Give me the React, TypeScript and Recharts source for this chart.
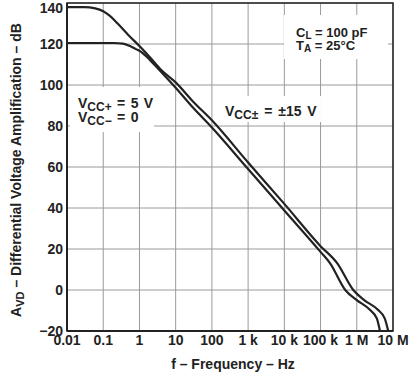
import { LineChart, Line, XAxis, YAxis, CartesianGrid, ReferenceArea } from "recharts"

// VCC± = ±15 V (upper / right curve)
const freq15 = [0.01, 0.03, 0.06, 0.1, 0.15, 0.25, 0.5, 1, 2, 4, 10, 30, 100, 1000, 10000, 100000, 290000, 800000, 1600000, 3900000, 5900000, 7400000]
const gain15 = [138, 138, 137.4, 136, 133.8, 130, 124.3, 119, 113.3, 107.3, 101.3, 92, 82.8, 62.2, 42, 21.4, 13, 0, -4.9, -9.8, -13.8, -20]

// VCC+ = 5 V, VCC- = 0 (lower / left curve)
const freq5 = [0.01, 0.2, 0.35, 0.55, 0.8, 1, 2, 4, 10, 30, 100, 1000, 10000, 100000, 184000, 480000, 1000000, 2340000, 3570000, 4370000]
const gain5 = [120.5, 120.5, 120.2, 119, 117.5, 116.7, 112, 106.3, 98.7, 89, 79.3, 59, 38.8, 18.6, 13, 0, -4.9, -9.8, -13.8, -20]

const xTicks = [0.01, 0.1, 1, 10, 100, 1e3, 1e4, 1e5, 1e6, 1e7]
const xTickLabels = ["0.01", "0.1", "1", "10", "100", "1 k", "10 k", "100 k", "1 M", "10 M"]
const yTicks = [-20, 0, 20, 40, 60, 80, 100, 120, 140]

const data15 = freq15.map((f, i) => ({ f, gain: gain15[i] }))
const data5 = freq5.map((f, i) => ({ f, gain: gain5[i] }))

const FONT = "'Liberation Sans', Arial, Helvetica, sans-serif"
const INK = "#222"

const fmtX = (v: number) => {
  const i = xTicks.findIndex((t) => Math.abs(Math.log10(t) - Math.log10(v)) < 1e-6)
  return i >= 0 ? xTickLabels[i] : ""
}
const fmtY = (v: number) => (v < 0 ? "\u2212" + Math.abs(v) : String(v))

const tickStyle = { fontSize: 14, fontWeight: "bold", fill: INK, fontFamily: FONT }

// y tick: keep the top label inside the picture like the reference
function YTick(props: any) {
  const { x, y, payload } = props
  return (
    <text x={x} y={Math.max(y, 8)} dy="0.355em" textAnchor="end" {...tickStyle}>
      {fmtY(payload.value)}
    </text>
  )
}

export default function App() {
  return (
    <div style={{ position: "absolute", left: 0, top: 0, width: 410, height: 373, background: "#fff" }}>
      <LineChart width={410} height={373} margin={{ top: 3, right: 17, left: 0, bottom: 0 }}>
        <CartesianGrid stroke="#9a9a9a" strokeWidth={1} />
        <XAxis
          dataKey="f"
          type="number"
          scale="log"
          domain={[0.01, 1e7]}
          ticks={xTicks}
          interval={0}
          allowDataOverflow
          tickFormatter={fmtX}
          height={42}
          tickLine={false}
          tickSize={0}
          tickMargin={4}
          axisLine={{ stroke: INK, strokeWidth: 2 }}
          tick={tickStyle}
        />
        <YAxis
          type="number"
          domain={[-20, 140]}
          ticks={yTicks}
          interval={0}
          width={67}
          tickLine={false}
          tickSize={0}
          tickMargin={4}
          axisLine={{ stroke: INK, strokeWidth: 2 }}
          tick={<YTick />}
        />
        <ReferenceArea x1={0.01} x2={1e7} y1={-20} y2={140} fill="none" fillOpacity={0} stroke={INK} strokeWidth={1.5} />
        <Line data={data5} dataKey="gain" type="monotone" stroke={INK} strokeWidth={2.2} dot={false} isAnimationActive={false} />
        <Line data={data15} dataKey="gain" type="monotone" stroke={INK} strokeWidth={2.2} dot={false} isAnimationActive={false} />
      </LineChart>
      <svg width={410} height={373} style={{ position: "absolute", left: 0, top: 0, pointerEvents: "none" }}>
        <g fontFamily={FONT} fontWeight="bold" fill={INK}>
          <rect x={284} y={15} width={104} height={44} fill="#fff" />
          <text x={296} y={37} fontSize={13}>
            C<tspan fontSize={10} dy={2}>L</tspan>
            <tspan dy={-2}> = 100 pF</tspan>
            <tspan x={296} dy={13}>T</tspan>
            <tspan fontSize={10} dy={2}>A</tspan>
            <tspan dy={-2}> = 25°C</tspan>
          </text>

          <rect x={70} y={87} width={84} height={45} fill="#fff" />
          <text x={78} y={108} fontSize={14} wordSpacing={1.5}>
            V<tspan fontSize={12} dy={2.5}>CC+</tspan>
            <tspan dy={-2.5}> = 5 V</tspan>
            <tspan x={78} dy={14}>V</tspan>
            <tspan fontSize={12} dy={2.5}>CC−</tspan>
            <tspan dy={-2.5}> = 0</tspan>
          </text>

          <rect x={222} y={96} width={99} height={26} fill="#fff" />
          <text x={225} y={116} fontSize={14} wordSpacing={2}>
            V<tspan fontSize={12} dy={3}>CC±</tspan>
            <tspan dy={-3}> = ±15 V</tspan>
          </text>

          <text x={233} y={369} fontSize={14} textAnchor="middle">
            f – Frequency – Hz
          </text>
          <text transform="translate(20.5,170) rotate(-90)" fontSize={14} textAnchor="middle">
            A<tspan fontSize={11} dy={3}>VD</tspan>
            <tspan dy={-3}> – Differential Voltage Amplification – dB</tspan>
          </text>
        </g>
      </svg>
    </div>
  )
}
